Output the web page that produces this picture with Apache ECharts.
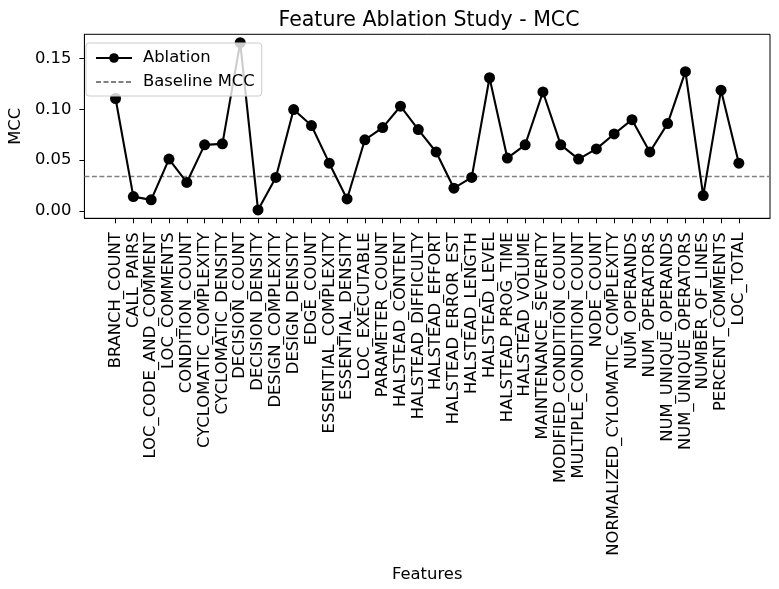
<!DOCTYPE html>
<html>
<head>
<meta charset="utf-8">
<script src="https://cdn.jsdelivr.net/npm/echarts@6/dist/echarts.min.js"></script>
<style>
html,body{margin:0;padding:0;background:#fff;}
#chart{width:779px;height:589px;}
</style>
</head>
<body>
<div id="chart"></div>
<script>
var features = ["BRANCH_COUNT","CALL_PAIRS","LOC_CODE_AND_COMMENT","LOC_COMMENTS","CONDITION_COUNT","CYCLOMATIC_COMPLEXITY","CYCLOMATIC_DENSITY","DECISION_COUNT","DECISION_DENSITY","DESIGN_COMPLEXITY","DESIGN_DENSITY","EDGE_COUNT","ESSENTIAL_COMPLEXITY","ESSENTIAL_DENSITY","LOC_EXECUTABLE","PARAMETER_COUNT","HALSTEAD_CONTENT","HALSTEAD_DIFFICULTY","HALSTEAD_EFFORT","HALSTEAD_ERROR_EST","HALSTEAD_LENGTH","HALSTEAD_LEVEL","HALSTEAD_PROG_TIME","HALSTEAD_VOLUME","MAINTENANCE_SEVERITY","MODIFIED_CONDITION_COUNT","MULTIPLE_CONDITION_COUNT","NODE_COUNT","NORMALIZED_CYLOMATIC_COMPLEXITY","NUM_OPERANDS","NUM_OPERATORS","NUM_UNIQUE_OPERANDS","NUM_UNIQUE_OPERATORS","NUMBER_OF_LINES","PERCENT_COMMENTS","LOC_TOTAL"];
var mcc = [0.1106,0.0141,0.0109,0.0510,0.0280,0.0650,0.0660,0.1655,0.0010,0.0330,0.0997,0.0840,0.0470,0.0118,0.0700,0.0820,0.1030,0.0800,0.0580,0.0224,0.0330,0.1310,0.0520,0.0650,0.1170,0.0650,0.0510,0.0610,0.0757,0.0898,0.0580,0.0859,0.1370,0.0151,0.1188,0.0470];
var baselineMCC = 0.0339;
var yTicks = [0.00, 0.05, 0.10, 0.15];

var n = features.length;
var xPad = (n - 1) * 0.05;
var yMinData = Math.min.apply(null, mcc), yMaxData = Math.max.apply(null, mcc);
var yPad = (yMaxData - yMinData) * 0.05;
var xIdx = features.map(function(_, i){ return i; });

var chart = echarts.init(document.getElementById('chart'), null, {renderer:'canvas'});
var font = 'DejaVu Sans';
chart.setOption({
  animation: false,
  backgroundColor: '#fff',
  title: {
    text: 'Feature Ablation Study - MCC',
    left: 424, top: 5, textAlign: 'center',
    textStyle: {fontFamily: font, fontSize: 20.5, fontWeight: 'normal', color: '#000'}
  },
  legend: {
    left: 86, top: 43, orient: 'vertical',
    itemWidth: 36, itemHeight: 12, itemGap: 4,
    padding: [5, 7, 4, 9],
    backgroundColor: 'rgba(255,255,255,0.8)',
    borderColor: '#cccccc', borderWidth: 1, borderRadius: 3,
    textStyle: {fontFamily: font, fontSize: 16.4, lineHeight: 20, color: '#000', padding: [0, 0, 0, 6]},
    data: [
      {name: 'Ablation'},
      {name: 'Baseline MCC', itemStyle: {color: 'rgba(0,0,0,0)', borderWidth: 0}}
    ],
    z: 10
  },
  grid: {left: 77.7, right: 9, top: 34.3, bottom: 370.7, show: true, borderColor: '#000', borderWidth: 1, containLabel: false},
  xAxis: {
    type: 'value', min: -xPad, max: n - 1 + xPad,
    name: 'Features', nameLocation: 'middle', nameGap: 348,
    nameTextStyle: {fontFamily: font, fontSize: 16.4, color: '#000', verticalAlign: 'top'},
    axisLine: {show: true, onZero: false, lineStyle: {color: '#000', width: 1}},
    axisTick: {show: true, length: 5, lineStyle: {color: '#000'}, customValues: xIdx},
    axisLabel: {
      rotate: 90, margin: 14, fontFamily: font, fontSize: 16.4, color: '#000',
      customValues: xIdx,
      formatter: function(v){ return features[Math.round(v)] || ''; }
    },
    splitLine: {show: false}
  },
  yAxis: {
    type: 'value', min: yMinData - yPad, max: yMaxData + yPad,
    name: 'MCC', nameLocation: 'middle', nameGap: 57,
    nameTextStyle: {fontFamily: font, fontSize: 16.4, color: '#000'},
    axisLine: {show: true, onZero: false, lineStyle: {color: '#000', width: 1}},
    axisTick: {show: true, length: 5, lineStyle: {color: '#000'}, customValues: yTicks},
    axisLabel: {
      margin: 13, fontFamily: font, fontSize: 16.4, color: '#000',
      customValues: yTicks,
      formatter: function(v){ return v.toFixed(2); }
    },
    splitLine: {show: false}
  },
  series: [
    {
      name: 'Ablation', type: 'line',
      data: mcc.map(function(v, i){ return [i, v]; }),
      symbol: 'circle', symbolSize: 11, showSymbol: true,
      lineStyle: {color: '#000', width: 2.1},
      itemStyle: {color: '#000'},
      z: 3
    },
    {
      name: 'Baseline MCC', type: 'line',
      data: [[-xPad, baselineMCC], [n - 1 + xPad, baselineMCC]],
      symbol: 'none',
      lineStyle: {color: '#808080', width: 1.4, type: [5, 2.5]},
      itemStyle: {color: '#808080'},
      z: 2
    }
  ]
});
</script>
</body>
</html>
